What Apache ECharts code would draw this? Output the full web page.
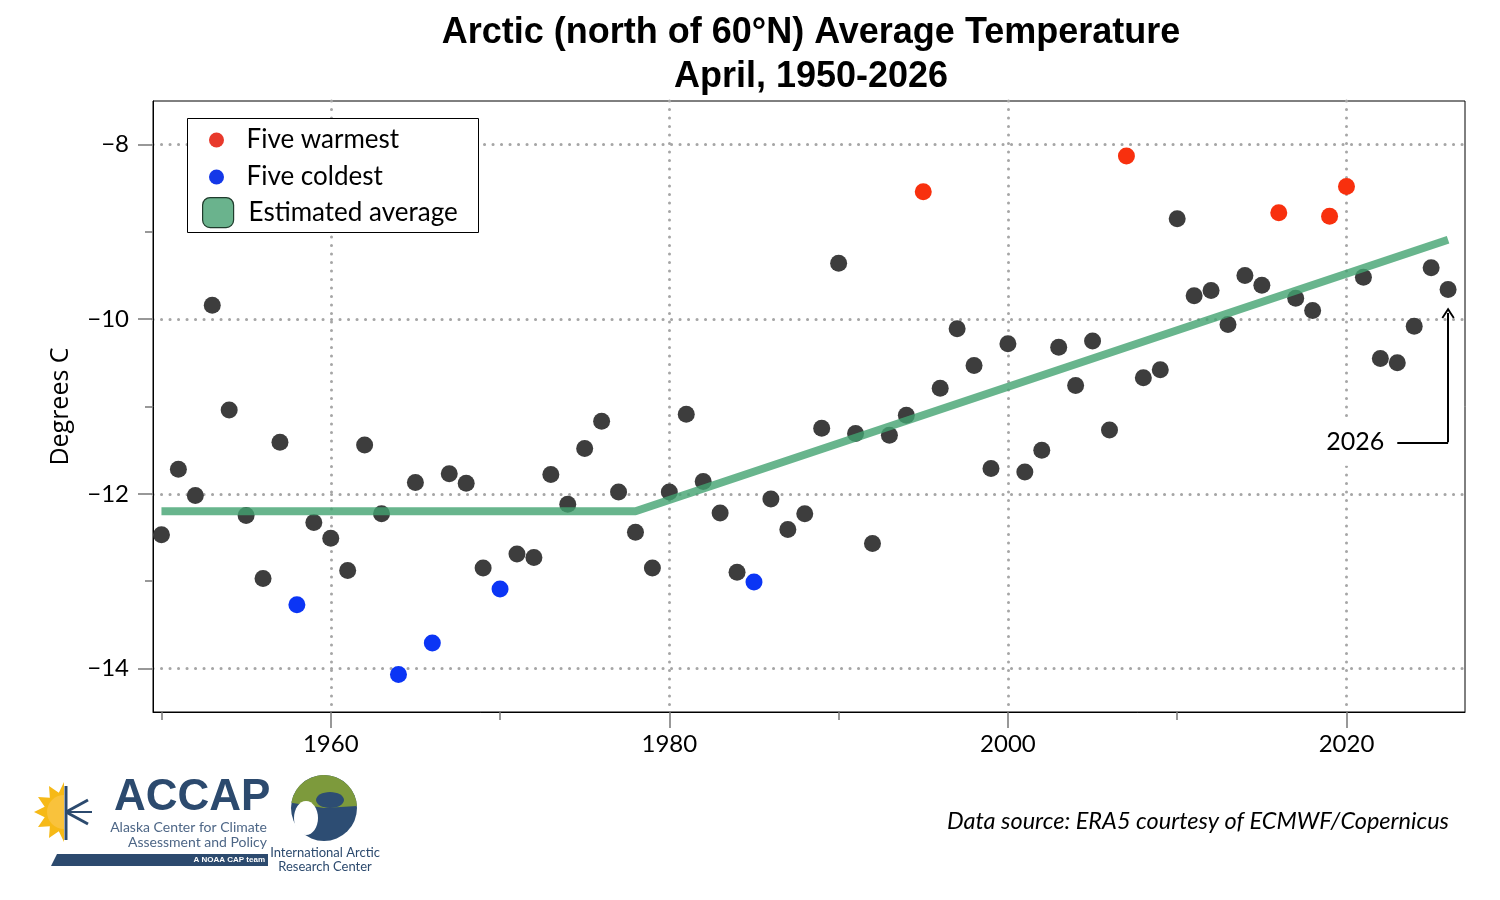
<!DOCTYPE html>
<html lang="en">
<head>
  <meta charset="UTF-8">
  <title>Arctic April Temperature</title>
  <style>
    html, body { margin: 0; padding: 0; background: #fff; }
    #main { width: 1500px; height: 900px; }
  </style>
</head>
<body>
  <div id="main"></div>
  <script src="https://cdn.jsdelivr.net/npm/echarts@6/dist/echarts.min.js"></script>
  <script>
    // April mean temperature north of 60N, deg C, one value per year from 1950
    var firstYear = 1950;
    var temps = [
      -12.47, -11.72, -12.02, -9.84, -11.04, -12.25, -12.97, -11.41, -13.27, -12.33,
      -12.51, -12.88, -11.44, -12.23, -14.07, -11.87, -13.71, -11.77, -11.88, -12.85,
      -13.09, -12.69, -12.73, -11.78, -12.12, -11.48, -11.17, -11.98, -12.44, -12.85,
      -11.98, -11.09, -11.86, -12.22, -12.90, -13.01, -12.06, -12.41, -12.23, -11.25,
      -9.36, -11.31, -12.57, -11.33, -11.10, -8.54, -10.79, -10.11, -10.53, -11.71,
      -10.28, -11.75, -11.50, -10.32, -10.76, -10.25, -11.27, -8.13, -10.67, -10.58,
      -8.85, -9.73, -9.67, -10.06, -9.50, -9.61, -8.78, -9.76, -9.90, -8.82,
      -8.48, -9.52, -10.45, -10.50, -10.08, -9.41, -9.66
    ];
    var warmestYears = [1995, 2007, 2016, 2019, 2020];
    var coldestYears = [1958, 1964, 1966, 1970, 1985];

    // piecewise "estimated average"
    var trendYears = [1950, 1978, 2026];
    var trendTemps = [-12.2, -12.2, -9.09];

    var xMajorTicks = [1960, 1980, 2000, 2020];
    var xMinorTicks = [1950, 1970, 1990, 2010];
    var yMajorTicks = [-14, -12, -10, -8];
    var yMinorTicks = [-13, -11, -9];

    var warm = [], cold = [], other = [];
    temps.forEach(function (t, i) {
      var yr = firstYear + i;
      if (warmestYears.indexOf(yr) >= 0) warm.push([yr, t]);
      else if (coldestYears.indexOf(yr) >= 0) cold.push([yr, t]);
      else other.push([yr, t]);
    });
    var trend = trendYears.map(function (y, i) { return [y, trendTemps[i]]; });
    var lastYear = firstYear + temps.length - 1;

    var font = 'Lato';
    var minus = function (v) { return String(v).replace('-', '\u2212'); };
    var dotted = { color: '#a6a6a6', width: 3, type: [0.1, 8.4], cap: 'round' };
    var tickGray = { color: '#777', width: 1.5 };

    var myChart = echarts.init(document.getElementById('main'));

    // sun rays for the logo (decoration only)
    var rays = [];
    for (var k = 0; k <= 12; k++) {
      var a = Math.PI / 2 + k * Math.PI / 12;
      var r = (k % 2 === 0) ? 30 : 20;
      rays.push([64 + r * Math.cos(a), 812 + r * Math.sin(a)]);
    }

    option = {
      animation: false,
      backgroundColor: '#fff',
      title: {
        text: 'Arctic (north of 60\u00b0N) Average Temperature\nApril, 1950-2026',
        left: 806,
        top: 6,
        textAlign: 'center',
        textStyle: {
          fontFamily: 'Liberation Sans',
          fontWeight: 'bold',
          fontSize: 36,
          lineHeight: 44,
          color: '#000'
        }
      },
      grid: {
        left: 153, right: 35, top: 101, bottom: 188,
        show: true,
        borderColor: '#000',
        borderWidth: 1,
        backgroundColor: 'transparent'
      },
      legend: [{
        data: [
          { name: 'Five warmest', icon: 'circle', itemStyle: { color: '#e8392b' } },
          { name: 'Five coldest', icon: 'circle', itemStyle: { color: '#1438e8' } }
        ],
        orient: 'vertical',
        left: 209, top: 125,
        itemWidth: 30, itemHeight: 15, itemGap: 7,
        padding: 0,
        selectedMode: false,
        z: 6,
        textStyle: { fontFamily: font, fontSize: 26, lineHeight: 30, color: '#000', padding: [0, 0, 0, 10] }
      }, {
        data: [
          { name: 'Estimated average', icon: 'roundRect',
            itemStyle: { color: '#6ab38d', borderColor: '#1f3b2c', borderWidth: 1.2 } }
        ],
        left: 202, top: 197,
        itemWidth: 31, itemHeight: 30,
        padding: 0,
        selectedMode: false,
        z: 6,
        textStyle: { fontFamily: font, fontSize: 26, lineHeight: 30, color: '#000', padding: [0, 0, 0, 10] }
      }],
      xAxis: [{
        type: 'value',
        min: 1949.5, max: 2027,
        axisLine: { show: true, onZero: false, lineStyle: { color: '#000', width: 1 } },
        axisTick: { show: true, customValues: xMajorTicks, length: 16, lineStyle: tickGray },
        axisLabel: {
          customValues: xMajorTicks, margin: 20,
          fontFamily: font, fontSize: 24, color: '#000',
          formatter: function (v) { return String(v); }
        },
        splitLine: { show: true, lineStyle: dotted }
      }, {
        type: 'value',
        position: 'bottom',
        min: 1949.5, max: 2027,
        axisLine: { show: false },
        axisTick: { show: true, customValues: xMinorTicks, length: 8, lineStyle: tickGray },
        axisLabel: { show: false },
        splitLine: { show: false }
      }],
      yAxis: [{
        type: 'value',
        min: -14.5, max: -7.5,
        name: 'Degrees C',
        nameLocation: 'middle',
        nameGap: 80,
        nameRotate: 90,
        nameTextStyle: { fontFamily: 'Open Sans', fontSize: 25, color: '#000' },
        axisLine: { show: true, onZero: false, lineStyle: { color: '#000', width: 1 } },
        axisTick: { show: true, customValues: yMajorTicks, length: 15, lineStyle: tickGray },
        axisLabel: {
          customValues: yMajorTicks, margin: 24,
          fontFamily: font, fontSize: 24, color: '#000',
          formatter: minus
        },
        splitLine: { show: true, lineStyle: dotted }
      }, {
        type: 'value',
        position: 'left',
        min: -14.5, max: -7.5,
        axisLine: { show: false },
        axisTick: { show: true, customValues: yMinorTicks, length: 8, lineStyle: tickGray },
        axisLabel: { show: false },
        splitLine: { show: false }
      }],
      series: [{
        name: 'All years',
        type: 'scatter',
        symbolSize: 17,
        itemStyle: { color: '#3d3d3d', opacity: 1 },
        data: other,
        z: 3,
        markLine: {
          silent: true,
          symbol: 'none',
          lineStyle: { color: '#000', width: 2, type: 'solid' },
          label: { show: false },
          data: [
            [
              { coord: [2023.0, -11.41],
                label: {
                  show: true, position: 'start', distance: 11,
                  formatter: String(lastYear),
                  fontFamily: font, fontSize: 25, color: '#000',
                  backgroundColor: '#fff', padding: [11, 2]
                } },
              { coord: [lastYear, -11.41] }
            ],
            [
              { coord: [lastYear, -11.41], symbol: 'none' },
              { coord: [lastYear, -9.93],
                symbol: 'path://M0,9 L6,0 L12,9 L10.6,10 L6,3 L1.4,10 Z',
                symbolSize: [13, 11] }
            ]
          ]
        }
      }, {
        name: 'Five warmest',
        type: 'scatter',
        symbolSize: 17,
        itemStyle: { color: '#f8300e', opacity: 1 },
        data: warm,
        z: 3
      }, {
        name: 'Five coldest',
        type: 'scatter',
        symbolSize: 17,
        itemStyle: { color: '#0b35f5', opacity: 1 },
        data: cold,
        z: 3
      }, {
        name: 'Estimated average',
        type: 'line',
        showSymbol: false,
        data: trend,
        z: 4,
        lineStyle: { color: '#42a371', width: 8, opacity: 0.8, cap: 'butt' }
      }],
      graphic: [
        // legend frame
        { type: 'rect', z: 5, shape: { x: 187.5, y: 118.5, width: 291, height: 114 },
          style: { fill: '#fff', stroke: '#000', lineWidth: 1 } },
        // data source note
        { type: 'text', z: 5, style: {
            x: 1449, y: 821, text: 'Data source: ERA5 courtesy of ECMWF/Copernicus',
            align: 'right', verticalAlign: 'middle',
            font: 'italic 23.5px Lato', fill: '#000' } },
        // ACCAP logo (approximation)
        { type: 'polygon', shape: { points: rays }, style: { fill: '#f6b917' } },
        { type: 'sector', shape: { cx: 64, cy: 812, r: 17, startAngle: Math.PI / 2, endAngle: Math.PI * 1.5 },
          style: { fill: '#f9c23c' } },
        { type: 'line', shape: { x1: 66, y1: 786, x2: 66, y2: 840 }, style: { stroke: '#2c4a6e', lineWidth: 3 } },
        { type: 'line', shape: { x1: 66, y1: 812, x2: 88, y2: 800 }, style: { stroke: '#2c4a6e', lineWidth: 3 } },
        { type: 'line', shape: { x1: 66, y1: 812, x2: 88, y2: 824 }, style: { stroke: '#2c4a6e', lineWidth: 3 } },
        { type: 'line', shape: { x1: 66, y1: 812, x2: 92, y2: 812 }, style: { stroke: '#2c4a6e', lineWidth: 2 } },
        { type: 'text', style: { x: 114, y: 798, text: 'ACCAP', font: 'bold 44px "Liberation Sans"',
            fill: '#2c4a6e', verticalAlign: 'middle' } },
        { type: 'text', style: { x: 267, y: 827, text: 'Alaska Center for Climate', font: '14px Lato',
            fill: '#4d6686', align: 'right', verticalAlign: 'middle' } },
        { type: 'text', style: { x: 267, y: 842, text: 'Assessment and Policy', font: '14px Lato',
            fill: '#4d6686', align: 'right', verticalAlign: 'middle' } },
        { type: 'polygon', shape: { points: [[57, 854], [268, 854], [268, 866], [51, 866]] },
          style: { fill: '#2c4a6e' } },
        { type: 'text', style: { x: 265, y: 860, text: 'A NOAA CAP team', font: 'bold 8px "Liberation Sans"',
            fill: '#fff', align: 'right', verticalAlign: 'middle' } },
        // IARC globe (approximation)
        { type: 'circle', shape: { cx: 324, cy: 808, r: 33 }, style: { fill: '#2d4d73' } },
        { type: 'sector', shape: { cx: 324, cy: 808, r: 33, startAngle: -Math.PI * 0.95, endAngle: -Math.PI * 0.02 },
          style: { fill: '#7d9a3c' } },
        { type: 'ellipse', shape: { cx: 330, cy: 800, rx: 14, ry: 8 }, style: { fill: '#2d4d73' } },
        { type: 'ellipse', shape: { cx: 306, cy: 818, rx: 12, ry: 17 }, style: { fill: '#fff' } },
        { type: 'text', style: { x: 325, y: 853, text: 'International Arctic', font: '13px Lato',
            fill: '#2c4a6e', align: 'center', verticalAlign: 'middle' } },
        { type: 'text', style: { x: 325, y: 867, text: 'Research Center', font: '13px Lato',
            fill: '#2c4a6e', align: 'center', verticalAlign: 'middle' } }
      ]
    };

    myChart.setOption(option);
  </script>
</body>
</html>
